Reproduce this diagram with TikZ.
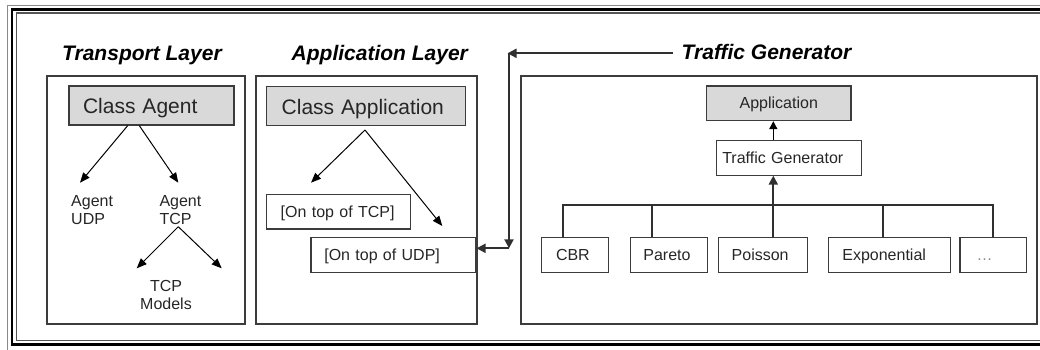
\documentclass[tikz,border=0pt]{standalone}
\usepackage{fontspec}
\setmainfont{Liberation Sans}
\usetikzlibrary{arrows.meta}
\definecolor{boxgray}{HTML}{D9D9D9}
\definecolor{edge}{HTML}{3C3C3C}
\definecolor{ink}{HTML}{262626}
\definecolor{wire}{HTML}{303030}
\definecolor{rimgray}{HTML}{8A8A8A}
\definecolor{innergray}{HTML}{555555}

\begin{document}
\begin{tikzpicture}[x=1pt,y=-1pt,
  panel/.style={draw=edge,line width=1.2pt,inner sep=0pt},
  title/.style={font=\fontsize{21}{25}\selectfont\bfseries\itshape,anchor=base west,inner sep=0pt},
  classbox/.style={draw=edge,line width=1.2pt,fill=boxgray,font=\fontsize{21}{25}\selectfont,text=ink,
    minimum height=39pt,text height=20pt,text depth=4pt,inner ysep=0pt,align=left},
  item/.style={draw=edge,line width=1.1pt,font=\fontsize{16}{18}\selectfont,text=ink,
    minimum height=34.6pt,text height=14pt,text depth=3pt,inner ysep=0pt,align=left},
  label/.style={font=\fontsize{16}{18}\selectfont,text=ink,inner sep=0pt},
  thin/.style={draw=black,line width=1pt,-{Triangle[length=10pt,width=8pt]}},
  bus/.style={draw=wire,line width=2pt,line join=miter},
  busarrow/.style={bus,-{Triangle[length=9pt,width=9pt]}},
  stemarrow/.style={draw=black,line width=1.5pt,-{Triangle[length=8pt,width=8pt]}},
]
\useasboundingbox (0,0) rectangle (1040,349);

% triple page frame
\begin{scope}
  \clip (0,0) rectangle (1040,349);
  \draw[draw=rimgray,line width=1pt] (7.5,5) rectangle (1060,370);
  \draw[draw=black,line width=2.4pt] (12,9.3) rectangle (1060,344.5);
  \draw[draw=innergray,line width=1.2pt] (16.5,13) rectangle (1060,340.7);
\end{scope}

% panels
\node[panel,minimum width=198pt,minimum height=248pt] (tpanel) at (146,200) {};
\node[panel,minimum width=221pt,minimum height=248pt] (apanel) at (366.5,200) {};
\node[panel,minimum width=516pt,minimum height=248pt] (gpanel) at (779,200) {};

% titles
\node[title] (ttitle) at (62,60) {Transport Layer};
\node[title] (atitle) at (291.5,60) {Application Layer};
\node[title] (gtitle) at (681.5,59) {Traffic Generator};

% transport layer
\node[classbox,inner xsep=14pt,text width=137pt] (ca) at (151.5,105.5) {Class Agent};
\node[label,align=left,anchor=north west] (audp) at (71,195) {Agent\\UDP};
\node[label,align=left,anchor=north west] (atcp) at (159.3,195) {Agent\\TCP};
\node[label,align=center,anchor=north] (models) at (166,280) {TCP\\Models};
\coordinate (udpend) at (80,182.7);
\coordinate (tcpend) at (178.3,182.7);
\coordinate (tcpfork) at (178.3,226.7);
\coordinate (modl) at (136.7,268.3);
\coordinate (modr) at (221.7,268.3);
\draw[thin] ([xshift=-23.8pt]ca.south) -- (udpend);
\draw[thin] ([xshift=-12.2pt]ca.south) -- (tcpend);
\draw[thin] (tcpfork) -- (modl);
\draw[thin] (tcpfork) -- (modr);

% application layer
\node[classbox,inner xsep=15pt,text width=169pt] (capp) at (366.2,106.3) {Class Application};
\node[item,inner xsep=14pt,text width=116pt] (ontcp) at (338.7,211.7) {[On top of TCP]};
\node[item,inner xsep=13.3pt,text width=138.4pt] (onudp) at (393.5,255) {[On top of UDP]};
\coordinate (appfork) at (365,130);
\coordinate (tcptip) at (311,182.7);
\coordinate (udptip) at (442.3,226);
\draw[thin] (appfork) -- (tcptip);
\draw[thin] (appfork) -- (udptip);

% traffic generator
\node[item,fill=boxgray,inner xsep=14pt,text width=116.3pt,align=center] (app) at (778.8,103.3) {Application};
\node[item,inner xsep=5.6pt,text width=133.8pt] (tg) at (789.2,157.8) {Traffic Generator};
\node[item,inner xsep=14.3pt,text width=38.4pt] (cbr) at (575.2,255) {CBR};
\node[item,inner xsep=13.3pt,text width=50.7pt] (pareto) at (668.7,255) {Pareto};
\node[item,inner xsep=13.4pt,text width=62.2pt] (poisson) at (762.8,255) {Poisson};
\node[item,inner xsep=14pt,text width=93.7pt] (expo) at (889.2,255) {Exponential};
\node[item,inner xsep=16.7pt,text width=33.3pt,text=rimgray] (more) at (993.3,255) {…};

\coordinate (b1) at (563.3,205);
\coordinate (b2) at (651.7,205);
\coordinate (stem) at (773.3,205);
\coordinate (b4) at (882.7,205);
\coordinate (b5) at (993.3,205);
\draw[bus] (b1 |- cbr.north) -- (b1) -- (b5) -- (b5 |- more.north);
\draw[bus] (b2) -- (b2 |- pareto.north);
\draw[bus] (b4) -- (b4 |- expo.north);
\draw[busarrow] (stem |- poisson.north) -- (stem |- tg.south);
\draw[stemarrow] (stem |- tg.north) -- (stem |- app.south);

% link from the generator back to the UDP application
\coordinate (glead) at (673,53.3);
\coordinate (corner) at (509,53.3);
\coordinate (knee) at (509,248.3);
\draw[busarrow] (glead) -- ([xshift=-1.5pt]corner);
\draw[busarrow] (corner) -- (knee);
\draw[busarrow] (knee) -- (onudp.east |- knee);
\end{tikzpicture}
\end{document}
